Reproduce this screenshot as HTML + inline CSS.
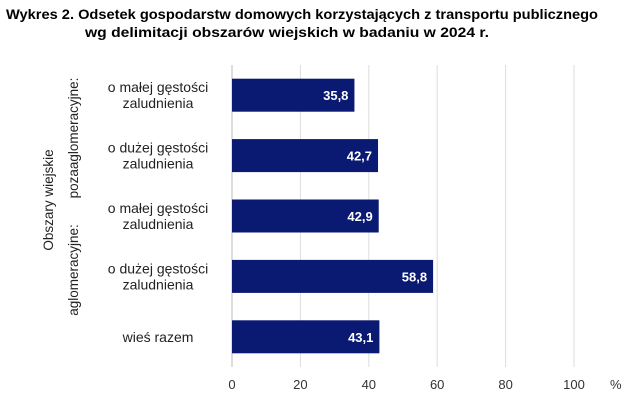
<!DOCTYPE html>
<html><head><meta charset="utf-8"><style>
body{margin:0;background:#fff;font-family:"Liberation Sans",sans-serif}
svg text{font-family:"Liberation Sans",sans-serif}
</style></head><body>
<svg width="637" height="403" id="c">
<text x="6" y="19" font-size="14" font-weight="bold" fill="#000" textLength="592" lengthAdjust="spacingAndGlyphs">Wykres 2.  Odsetek gospodarstw domowych korzystających z transportu publicznego</text>
<text x="85" y="37" font-size="14" font-weight="bold" fill="#000" textLength="404" lengthAdjust="spacingAndGlyphs">wg delimitacji obszarów wiejskich  w badaniu w 2024 r.</text>
<text transform="translate(53,200) rotate(-90)" text-anchor="middle" font-size="13.5" fill="#222">Obszary wiejskie</text>
<text transform="translate(78,138) rotate(-90)" text-anchor="middle" font-size="13.5" fill="#222">pozaaglomeracyjne:</text>
<text transform="translate(78,270) rotate(-90)" text-anchor="middle" font-size="13.5" fill="#222">aglomeracyjne:</text>
<g id="grid"></g><g id="bars"></g><g id="labels"></g><g id="ticks"></g>
<text x="610" y="389" font-size="13" fill="#333">%</text>
</svg>
<script>
const categories=[["o małej gęstości","zaludnienia"],["o dużej gęstości","zaludnienia"],["o małej gęstości","zaludnienia"],["o dużej gęstości","zaludnienia"],["wieś razem"]];
const values=[35.8,42.7,42.9,58.8,43.1];
const valueLabels=["35,8","42,7","42,9","58,8","43,1"];
const ticks=[0,20,40,60,80,100];
const NS="http://www.w3.org/2000/svg";
const x0=232,x1=574,yTop=65,yBot=367;
const xs=v=>x0+(x1-x0)*v/100;
const band=(yBot-yTop)/categories.length;
const yc=i=>yTop+band*(i+0.5);
function mk(t,a,p){const e=document.createElementNS(NS,t);for(const k in a)e.setAttribute(k,a[k]);document.getElementById(p).appendChild(e);return e;}
ticks.forEach((t,i)=>{
 const l=mk('line',{x1:xs(t),x2:xs(t),y1:yTop,y2:yBot,stroke:t===0?'#bbb':'#ddd','stroke-width':1},'grid');
 
 
 const tx=mk('text',{x:xs(t),y:389,'text-anchor':'middle','font-size':13,fill:'#333'},'ticks');
 tx.textContent=t;
 
 
});
values.forEach((v,i)=>{
 const bh=33;
 const r=mk('rect',{x:x0,y:yc(i)-bh/2,width:xs(v)-x0,height:bh,fill:'#0a1a73'},'bars');
 
 
 const t=mk('text',{x:xs(v)-6,y:yc(i)+5,'text-anchor':'end','font-size':13,'font-weight':'bold',fill:'#fff'},'labels');
 t.textContent=valueLabels[i];
 
 
 const lines=categories[i];
 lines.forEach((s,j)=>{
  const c=mk('text',{x:158,y:yc(i)+5+(lines.length>1?(j-0.5)*16:0),'text-anchor':'middle','font-size':14,fill:'#222'},'labels');
  c.textContent=s;
  
  
 });
});
</script>
</body></html>
